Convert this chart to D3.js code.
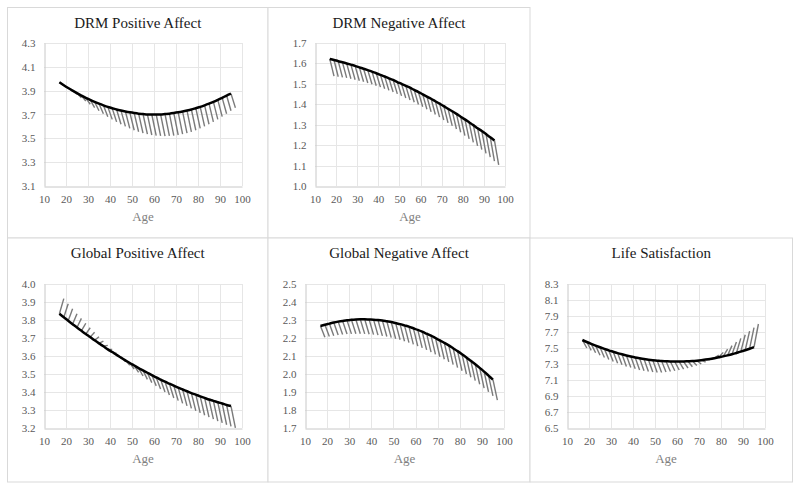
<!DOCTYPE html>
<html><head><meta charset="utf-8">
<script src="https://cdn.jsdelivr.net/npm/d3@7"></script>
<style>body{margin:0;background:#fff}svg{display:block}</style>
</head><body><svg id="c" width="800" height="488"></svg>
<script>
// ---- data ----
const ageBlack = [17,19,21,23,25,27,29,31,33,35,37,39,41,43,45,47,49,51,53,55,57,59,61,63,65,67,69,71,73,75,77,79,81,83,85,87,89,91,93,95];
const ageGray  = [19,21,23,25,27,29,31,33,35,37,39,41,43,45,47,49,51,53,55,57,59,61,63,65,67,69,71,73,75,77,79,81,83,85,87,89,91,93,95,97];
const xTicks = [10,20,30,40,50,60,70,80,90,100];
const titles = ["DRM Positive Affect","DRM Negative Affect","Global Positive Affect","Global Negative Affect","Life Satisfaction"];
const xLabel = "Age";

const drmPosTicks = [3.1,3.3,3.5,3.7,3.9,4.1,4.3];
const drmPosBlack = [3.970,3.945,3.922,3.900,3.879,3.859,3.840,3.823,3.806,3.791,3.777,3.764,3.753,3.742,3.733,3.725,3.718,3.712,3.707,3.704,3.701,3.700,3.700,3.701,3.704,3.707,3.712,3.718,3.725,3.733,3.742,3.753,3.764,3.777,3.791,3.806,3.823,3.840,3.859,3.875];
const drmPosGray  = [3.945,3.920,3.895,3.870,3.840,3.813,3.786,3.758,3.731,3.706,3.682,3.659,3.638,3.618,3.600,3.583,3.568,3.555,3.544,3.535,3.528,3.523,3.520,3.519,3.520,3.523,3.528,3.535,3.544,3.555,3.568,3.583,3.600,3.618,3.638,3.659,3.682,3.706,3.731,3.757];

const drmNegTicks = [1.0,1.1,1.2,1.3,1.4,1.5,1.6,1.7];
const drmNegBlack = [1.622,1.617,1.611,1.606,1.600,1.594,1.588,1.581,1.574,1.567,1.560,1.552,1.544,1.536,1.527,1.519,1.509,1.500,1.490,1.481,1.470,1.460,1.449,1.438,1.427,1.415,1.403,1.391,1.378,1.366,1.353,1.339,1.326,1.312,1.298,1.283,1.269,1.254,1.239,1.223];
const drmNegGray  = [1.538,1.535,1.532,1.529,1.525,1.520,1.515,1.510,1.504,1.498,1.491,1.484,1.476,1.468,1.460,1.451,1.441,1.431,1.421,1.410,1.399,1.388,1.376,1.363,1.350,1.337,1.323,1.309,1.294,1.279,1.263,1.247,1.231,1.214,1.196,1.178,1.160,1.141,1.122,1.103];

const globPosTicks = [3.2,3.3,3.4,3.5,3.6,3.7,3.8,3.9,4.0];
const globPosBlack = [3.835,3.815,3.796,3.777,3.758,3.740,3.722,3.705,3.687,3.670,3.654,3.637,3.622,3.606,3.591,3.576,3.561,3.547,3.533,3.520,3.507,3.494,3.481,3.469,3.457,3.446,3.435,3.424,3.414,3.404,3.394,3.385,3.376,3.367,3.358,3.351,3.343,3.336,3.328,3.322];
const globPosGray  = [3.919,3.890,3.863,3.835,3.809,3.782,3.757,3.732,3.707,3.683,3.659,3.636,3.614,3.592,3.570,3.549,3.528,3.509,3.489,3.470,3.452,3.434,3.416,3.400,3.383,3.367,3.352,3.337,3.323,3.309,3.296,3.284,3.271,3.260,3.249,3.238,3.228,3.218,3.209,3.201];

const globNegTicks = [1.7,1.8,1.9,2.0,2.1,2.2,2.3,2.4,2.5];
const globNegBlack = [2.267,2.274,2.280,2.286,2.291,2.295,2.298,2.301,2.303,2.304,2.304,2.303,2.302,2.300,2.297,2.293,2.289,2.283,2.277,2.270,2.263,2.254,2.245,2.235,2.224,2.213,2.200,2.187,2.173,2.159,2.143,2.127,2.110,2.092,2.073,2.054,2.034,2.013,1.991,1.969];
const globNegGray  = [2.204,2.209,2.213,2.217,2.220,2.222,2.223,2.224,2.224,2.223,2.221,2.219,2.216,2.212,2.208,2.202,2.196,2.190,2.182,2.174,2.165,2.155,2.145,2.134,2.122,2.109,2.096,2.082,2.067,2.052,2.035,2.018,2.000,1.982,1.963,1.943,1.922,1.901,1.878,1.855];

const lifeSatTicks = [6.5,6.7,6.9,7.1,7.3,7.5,7.7,7.9,8.1,8.3];
const lifeSatBlack = [7.600,7.575,7.552,7.530,7.509,7.489,7.470,7.453,7.436,7.421,7.407,7.394,7.382,7.372,7.363,7.354,7.347,7.342,7.337,7.334,7.331,7.330,7.330,7.331,7.334,7.337,7.342,7.348,7.355,7.363,7.373,7.384,7.395,7.408,7.422,7.438,7.454,7.472,7.491,7.511];
const lifeSatGray  = [7.500,7.470,7.440,7.410,7.380,7.355,7.330,7.310,7.290,7.270,7.255,7.240,7.225,7.215,7.205,7.200,7.195,7.195,7.200,7.205,7.215,7.225,7.235,7.250,7.265,7.280,7.300,7.325,7.355,7.380,7.410,7.445,7.485,7.530,7.575,7.620,7.665,7.710,7.755,7.800];

// ---- layout (positions only) ----
const layout = [
  {frame:[7.5,7.5,268,238],   plot:[44,43,242,186]},
  {frame:[268,7.5,530,238],   plot:[315,43,505,186]},
  {frame:[7.5,238,268,482],   plot:[44,284,242,428]},
  {frame:[268,238,530,482],   plot:[305,284,504,428]},
  {frame:[530,238,792.5,482], plot:[567,284,765,428]}
];
const panels = [
  {black:drmPosBlack, gray:drmPosGray, ticks:drmPosTicks},
  {black:drmNegBlack, gray:drmNegGray, ticks:drmNegTicks},
  {black:globPosBlack, gray:globPosGray, ticks:globPosTicks},
  {black:globNegBlack, gray:globNegGray, ticks:globNegTicks},
  {black:lifeSatBlack, gray:lifeSatGray, ticks:lifeSatTicks}
];

const svg = d3.select("#c");
const serif = "'Palatino Linotype','Book Antiqua',Palatino,'Liberation Serif','DejaVu Serif',serif";

panels.forEach((p, i) => {
  const L = layout[i];
  const [fx0, fy0, fx1, fy1] = L.frame;
  const [px0, py0, px1, py1] = L.plot;
  const g = svg.append("g");

  g.append("rect").attr("x", fx0).attr("y", fy0).attr("width", fx1 - fx0).attr("height", fy1 - fy0)
    .attr("fill", "#fff").attr("stroke", "#d9d9d9").attr("stroke-width", 1);

  const x = d3.scaleLinear().domain([10, 100]).range([px0, px1]);
  const y = d3.scaleLinear().domain([p.ticks[0], p.ticks[p.ticks.length - 1]]).range([py1, py0]);

  // gridlines
  g.append("g").selectAll("line").data(xTicks.slice(1)).join("line")
    .attr("x1", d => Math.round(x(d)) + 0.5).attr("x2", d => Math.round(x(d)) + 0.5)
    .attr("y1", py0).attr("y2", py1).attr("stroke", "#e6e6e6").attr("stroke-width", 1);
  g.append("g").selectAll("line").data(p.ticks.slice(1)).join("line")
    .attr("y1", d => Math.round(y(d)) + 0.5).attr("y2", d => Math.round(y(d)) + 0.5)
    .attr("x1", px0).attr("x2", px1).attr("stroke", "#e6e6e6").attr("stroke-width", 1);

  // axes
  const xAxis = d3.axisBottom(x).tickValues(xTicks).tickSize(0).tickPadding(9).tickFormat(d3.format("d"));
  const yAxis = d3.axisLeft(y).tickValues(p.ticks).tickSize(0).tickPadding(9).tickFormat(d3.format(".1f"));
  const gx = g.append("g").attr("transform", `translate(0,${Math.round(py1) + 0.5})`).call(xAxis);
  const gy = g.append("g").attr("transform", `translate(${Math.round(px0) + 0.5},0)`).call(yAxis);
  [gx, gy].forEach(a => {
    a.attr("font-family", serif).attr("font-size", 11);
    a.select(".domain").attr("stroke", "#c8c8c8").attr("stroke-width", 1);
    a.selectAll("text").attr("fill", "#595959");
  });

  // hatch lines (black series at age a to comparison series at age a+2)
  g.append("g").selectAll("line").data(p.black.map((v, k) => k)).join("line")
    .attr("x1", k => x(ageBlack[k])).attr("y1", k => y(p.black[k]))
    .attr("x2", k => x(ageGray[k])).attr("y2", k => y(p.gray[k]))
    .attr("stroke", "#7a7a7a").attr("stroke-width", 1.4);

  // black curve
  const line = d3.line().x((d, k) => x(ageBlack[k])).y(d => y(d)).curve(d3.curveCatmullRom);
  g.append("path").datum(p.black).attr("d", line)
    .attr("fill", "none").attr("stroke", "#000").attr("stroke-width", 2.5);

  // title
  g.append("text").attr("x", (fx0 + fx1) / 2).attr("y", fy0 + 20)
    .attr("text-anchor", "middle").attr("font-family", serif).attr("font-size", "15px").attr("fill", "#1a1a1a")
    .text(titles[i]);
  // axis title
  g.append("text").attr("x", (px0 + px1) / 2).attr("y", py1 + 35)
    .attr("text-anchor", "middle").attr("font-family", serif).attr("font-size", "13px").attr("fill", "#7f7f7f")
    .text(xLabel);
});
</script>
</body></html>
